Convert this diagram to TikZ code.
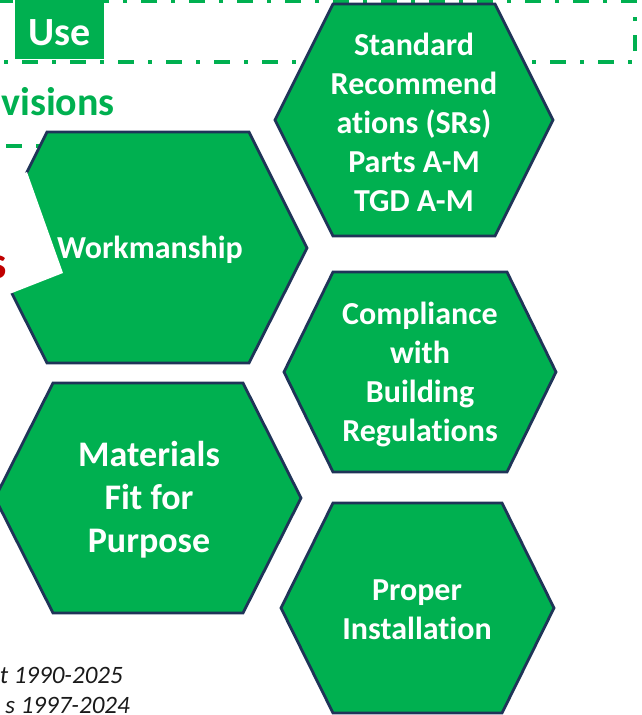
\documentclass[tikz,border=0pt]{standalone}
\usepackage{fontspec}
\setmainfont{Carlito}[Ligatures={NoCommon,NoDiscretionary}]
\definecolor{hgreen}{RGB}{0,176,80}
\definecolor{hnavy}{RGB}{31,52,88}
\definecolor{hred}{RGB}{192,0,0}
\definecolor{hblack}{RGB}{26,26,26}
\tikzset{
  hexa/.style={fill=hgreen, draw=hnavy, line width=2.8pt, line join=miter},
  hextext/.style={text=white, font=\bfseries\fontsize{32}{39}\selectfont, align=center, inner sep=0pt},
  frameline/.style={draw=hgreen, line width=3.5pt, dash pattern=on 16pt off 14pt on 4pt off 14pt},
  yeartext/.style={text=hblack, font=\itshape\fontsize{25}{30}\selectfont, anchor=base east, inner sep=0pt},
}
\begin{document}
\begin{tikzpicture}[x=1pt,y=-1pt]
\useasboundingbox (0,0) rectangle (641,715);
\clip (0,0) rectangle (641,715);
% frames
\draw[frameline, dash phase=6pt] (-20,62) -- (635,62) -- (635,1) -- (-20,1);
\draw[frameline, dash phase=22pt] (-20,146) -- (200,146);
% Use label
\fill[hgreen] (15,0) rectangle (104,59);
\node[text=white, font=\bfseries\fontsize{40}{48}\selectfont, anchor=base, inner sep=0pt] (use) at (59.5,45) {Use};
% visions heading
\node[text=hgreen, font=\bfseries\fontsize{40}{48}\selectfont, anchor=base east, inner sep=0pt] (prov) at (115,115) {visions};
% hexagon 1
\draw[hexa] (333,4) -- (495,4) -- (553,120) -- (495,236) -- (333,236) -- (275,120) -- cycle;
\node[hextext] (sr) at (414,122) {Standard\\Recommend\\ations (SRs)\\Parts A-M\\TGD A-M};
% hexagon 2
\draw[hexa] (47,132) -- (249,132) -- (307,248) -- (249,363) -- (47,363) -- (-11,248) -- cycle;
\node[hextext] (work) at (150,250) {Workmanship};
% white card
\fill[white] (27,172) -- (63,273) -- (-39,313) -- (-75,212) -- cycle;
\node[text=hred, font=\bfseries\fontsize{46}{55}\selectfont, anchor=base east, inner sep=0pt] (reds) at (7,278) {s};
% hexagon 3
\draw[hexa] (53,383) -- (243,383) -- (301,498) -- (243,613) -- (53,613) -- (-5,498) -- cycle;
\node[hextext, font=\bfseries\fontsize{36}{43}\selectfont] (mat) at (149,500) {Materials\\Fit for\\Purpose};
% hexagon 4
\draw[hexa] (333,272) -- (507,272) -- (556,372) -- (507,472) -- (333,472) -- (284,372) -- cycle;
\node[hextext] (comp) at (420,374) {Compliance\\with\\Building\\Regulations};
% hexagon 5
\draw[hexa] (333,503) -- (502,503) -- (554,608) -- (502,713) -- (333,713) -- (281,608) -- cycle;
\node[hextext] (inst) at (417,610) {Proper\\Installation};
% bottom italic text
\node[yeartext] (yr1) at (123,683) {t 1990-2025};
\node[yeartext] (yr2) at (130,713) {s 1997-2024};
\end{tikzpicture}
\end{document}
